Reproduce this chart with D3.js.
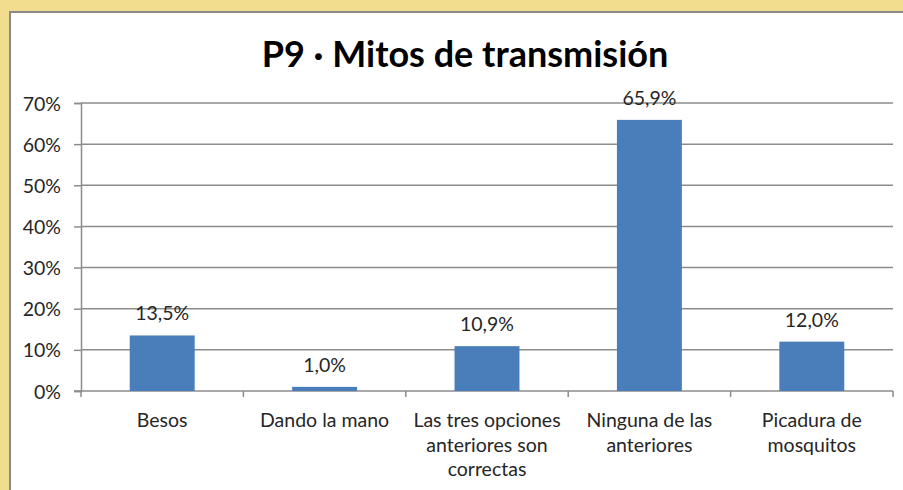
<!DOCTYPE html>
<html>
<head>
<meta charset="utf-8">
<script src="https://cdn.jsdelivr.net/npm/d3@7"></script>
<style>
  body { margin: 0; background: #f2dc8e; }
  text { font-family: Lato, "Open Sans", sans-serif; }
</style>
</head>
<body>
<script>
const WIDTH = 903;
const HEIGHT = 490;

// Chart data.
const categories = [
    ['Besos'],
    ['Dando la mano'],
    ['Las tres opciones', 'anteriores son', 'correctas'],
    ['Ninguna de las', 'anteriores'],
    ['Picadura de', 'mosquitos']
];
const values = [13.5, 1.0, 10.9, 65.9, 12.0];
const y_ticks = [0, 10, 20, 30, 40, 50, 60, 70];
const TITLE = 'P9 · Mitos de transmisión';

const BAR_COLOR = '#4a7ebb';
const GRID_COLOR = '#8c8c8c';
const TEXT_COLOR = '#262626';
const LABEL_SIZE = '19.5px';

const margin = {left: 81, right: 10, top: 103, bottom: 99};

var svg = d3.select('body')
    .append('svg')
    .attr('width', WIDTH)
    .attr('height', HEIGHT);

// Chart area, white with grey frame on top/left.
svg.append('rect')
    .attr('x', 10).attr('y', 12)
    .attr('width', WIDTH - 10).attr('height', HEIGHT - 12)
    .style('fill', 'white');
svg.append('path')
    .attr('d', `M10,${HEIGHT} V12 H${WIDTH}`)
    .style('fill', 'none')
    .style('stroke', '#8a8a8a')
    .style('stroke-width', 2);

const keys = categories.map((c, i) => i);
var x = d3.scaleBand()
    .domain(keys)
    .range([margin.left, WIDTH - margin.right])
    .paddingInner(0.6)
    .paddingOuter(0.3);
var y = d3.scaleLinear()
    .domain([0, 70])
    .range([HEIGHT - margin.bottom, margin.top]);

// Gridlines.
svg.append('g')
    .selectAll('line')
    .data(y_ticks.slice(1))
    .enter()
    .append('line')
    .attr('x1', margin.left).attr('x2', WIDTH - margin.right)
    .attr('y1', d => y(d)).attr('y2', d => y(d))
    .style('stroke', GRID_COLOR)
    .style('stroke-width', 1.5);

// Y axis.
var y_axis = svg.append('g')
    .attr('transform', `translate(${margin.left},0)`)
    .call(d3.axisLeft(y).tickValues(y_ticks).tickSize(7).tickPadding(13)
        .tickFormat(d => d + '%'));
y_axis.select('.domain').style('stroke', GRID_COLOR).style('stroke-width', 1.5);
y_axis.selectAll('.tick line').style('stroke', GRID_COLOR).style('stroke-width', 1.5);
y_axis.selectAll('text')
    .style('font-size', LABEL_SIZE)
    .style('fill', TEXT_COLOR)
    .attr('dy', '0.36em');

// X axis: ticks sit between categories.
const step = x.step();
const x0 = y(0);
svg.append('line')
    .attr('x1', margin.left - 7).attr('x2', WIDTH - margin.right)
    .attr('y1', x0).attr('y2', x0)
    .style('stroke', GRID_COLOR)
    .style('stroke-width', 1.5);
svg.append('g')
    .selectAll('line')
    .data(d3.range(categories.length + 1))
    .enter()
    .append('line')
    .attr('x1', i => margin.left + i * step).attr('x2', i => margin.left + i * step)
    .attr('y1', x0).attr('y2', x0 + 6)
    .style('stroke', GRID_COLOR)
    .style('stroke-width', 1.5);

// Bars.
svg.append('g')
    .selectAll('rect')
    .data(values)
    .enter()
    .append('rect')
    .attr('x', (d, i) => x(i))
    .attr('width', x.bandwidth())
    .attr('y', d => y(d))
    .attr('height', d => y(0) - y(d))
    .style('fill', BAR_COLOR);

// Data labels.
svg.append('g')
    .selectAll('text')
    .data(values)
    .enter()
    .append('text')
    .attr('x', (d, i) => x(i) + x.bandwidth() / 2)
    .attr('y', d => y(d) - 15)
    .attr('text-anchor', 'middle')
    .style('font-size', LABEL_SIZE)
    .style('fill', TEXT_COLOR)
    .text(d => d.toFixed(1).replace('.', ',') + '%');

// Category labels, wrapped like the original.
var cat = svg.append('g')
    .selectAll('text')
    .data(categories)
    .enter()
    .append('text')
    .attr('text-anchor', 'middle')
    .style('font-size', LABEL_SIZE)
    .style('fill', TEXT_COLOR);
cat.selectAll('tspan')
    .data((d, i) => d.map(line => ({line: line, i: i})))
    .enter()
    .append('tspan')
    .attr('x', d => x(d.i) + x.bandwidth() / 2)
    .attr('y', (d, j) => x0 + 36 + j * 24.5)
    .text(d => d.line);

// Title.
svg.append('text')
    .attr('x', 465)
    .attr('y', 67)
    .attr('text-anchor', 'middle')
    .style('font-size', '36px')
    .style('font-weight', 'bold')
    .style('fill', 'black')
    .text(TITLE);
</script>
</body>
</html>
